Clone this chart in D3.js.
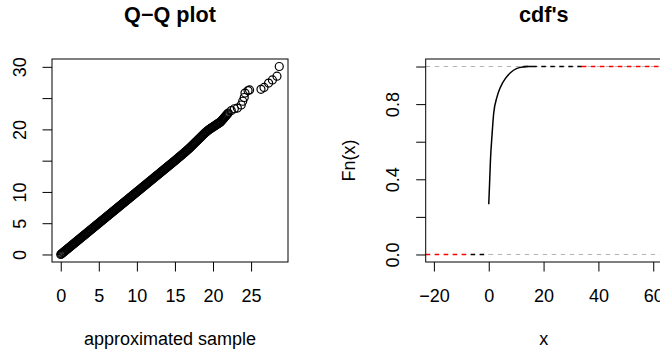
<!DOCTYPE html>
<html>
<head>
<meta charset="utf-8">
<script src="https://cdnjs.cloudflare.com/ajax/libs/d3/7.8.5/d3.min.js"></script>
<style>
  html, body { margin: 0; padding: 0; background: #fff; }
  svg text { font-family: "Liberation Sans", Arial, sans-serif; fill: #000; }
</style>
</head>
<body>
<div id="chart"></div>
<script>
// Q-Q plot: approximated sample (x) against sample (y)
var qqApprox = [
  0, 0.1, 0.2, 0.3, 0.4, 0.5, 0.6, 0.7, 0.8, 0.9,
  1, 1.1, 1.2, 1.3, 1.4, 1.5, 1.6, 1.7, 1.8, 1.9,
  2, 2.1, 2.2, 2.3, 2.4, 2.5, 2.6, 2.7, 2.8, 2.9,
  3, 3.1, 3.2, 3.3, 3.4, 3.5, 3.6, 3.7, 3.8, 3.9,
  4, 4.1, 4.2, 4.3, 4.4, 4.5, 4.6, 4.7, 4.8, 4.9,
  5, 5.1, 5.2, 5.3, 5.4, 5.5, 5.6, 5.7, 5.8, 5.9,
  6, 6.1, 6.2, 6.3, 6.4, 6.5, 6.6, 6.7, 6.8, 6.9,
  7, 7.1, 7.2, 7.3, 7.4, 7.5, 7.6, 7.7, 7.8, 7.9,
  8, 8.1, 8.2, 8.3, 8.4, 8.5, 8.6, 8.7, 8.8, 8.9,
  9, 9.1, 9.2, 9.3, 9.4, 9.5, 9.6, 9.7, 9.8, 9.9,
  10, 10.1, 10.2, 10.3, 10.4, 10.5, 10.6, 10.7, 10.8, 10.9,
  11, 11.1, 11.2, 11.3, 11.4, 11.5, 11.6, 11.7, 11.8, 11.9,
  12, 12.1, 12.2, 12.3, 12.4, 12.5, 12.6, 12.7, 12.8, 12.9,
  13, 13.1, 13.2, 13.3, 13.4, 13.5, 13.6, 13.7, 13.8, 13.9,
  14, 14.1, 14.2, 14.3, 14.4, 14.5, 14.6, 14.7, 14.8, 14.9,
  15, 15.1, 15.2, 15.3, 15.4, 15.5, 15.6, 15.7, 15.8, 15.9,
  16, 16.1, 16.2, 16.3, 16.4, 16.5, 16.6, 16.7, 16.8, 16.9,
  17, 17.1, 17.2, 17.3, 17.4, 17.5, 17.6, 17.7, 17.8, 17.9,
  18, 18.1, 18.2, 18.3, 18.4, 18.5, 18.6, 18.7, 18.8, 18.9,
  19, 19.1, 19.2, 19.3, 19.4, 19.5, 19.6, 19.7, 19.8, 19.9,
  20, 20.1, 20.2, 20.3, 20.4, 20.5, 20.6, 20.7, 20.8, 20.9,
  21, 21.1, 21.2, 21.3, 21.4, 21.5, 21.6, 21.7, 21.8, 21.9,
  22,
  22.4, 22.8, 23.2, 23.7, 23.9, 24.1, 24.2, 24.6, 24.8,
  26.3, 26.7, 27.3, 27.8, 28.4, 28.7
];
var qqSample = [
  0, 0.1, 0.2, 0.3, 0.4, 0.5, 0.6, 0.7, 0.8, 0.9,
  1, 1.1, 1.2, 1.3, 1.4, 1.5, 1.6, 1.7, 1.8, 1.9,
  2, 2.1, 2.2, 2.3, 2.4, 2.5, 2.6, 2.7, 2.8, 2.9,
  3, 3.1, 3.2, 3.3, 3.4, 3.5, 3.6, 3.7, 3.8, 3.9,
  4, 4.1, 4.2, 4.3, 4.4, 4.5, 4.6, 4.7, 4.8, 4.9,
  5, 5.1, 5.2, 5.3, 5.4, 5.5, 5.6, 5.7, 5.8, 5.9,
  6, 6.1, 6.2, 6.3, 6.4, 6.5, 6.6, 6.7, 6.8, 6.9,
  7, 7.1, 7.2, 7.3, 7.4, 7.5, 7.6, 7.7, 7.8, 7.9,
  8, 8.1, 8.2, 8.3, 8.4, 8.5, 8.6, 8.7, 8.8, 8.9,
  9, 9.1, 9.2, 9.3, 9.4, 9.5, 9.6, 9.7, 9.8, 9.9,
  10, 10.1, 10.2, 10.3, 10.4, 10.5, 10.6, 10.7, 10.8, 10.9,
  11, 11.1, 11.2, 11.3, 11.4, 11.5, 11.6, 11.7, 11.8, 11.9,
  12, 12.1, 12.2, 12.3, 12.4, 12.5, 12.6, 12.7, 12.8, 12.9,
  13, 13.1, 13.2, 13.3, 13.4, 13.5, 13.6, 13.7, 13.8, 13.9,
  14, 14.1, 14.2, 14.3, 14.4, 14.5, 14.6, 14.7, 14.8, 14.9,
  15, 15.1, 15.2, 15.3, 15.41, 15.51, 15.61, 15.71, 15.82, 15.92,
  16.02, 16.13, 16.23, 16.34, 16.45, 16.55, 16.66, 16.77, 16.88, 16.99,
  17.1, 17.22, 17.34, 17.46, 17.58, 17.7, 17.82, 17.94, 18.06, 18.18,
  18.3, 18.42, 18.54, 18.66, 18.78, 18.9, 19.02, 19.14, 19.26, 19.38,
  19.5, 19.6, 19.7, 19.8, 19.9, 20.0, 20.08, 20.16, 20.24, 20.32,
  20.4, 20.48, 20.56, 20.64, 20.72, 20.8, 20.88, 20.96, 21.04, 21.12,
  21.2, 21.34, 21.48, 21.62, 21.76, 21.9, 22.04, 22.18, 22.32, 22.46,
  22.6,
  23.0, 23.3, 23.4, 23.9, 24.5, 25.1, 25.8, 26.2, 26.3,
  26.4, 26.7, 27.4, 27.9, 28.5, 30.05
];
var qqXTicks = [0, 5, 10, 15, 20, 25];
var qqYTicks = [0, 5, 10, 15, 20, 25, 30];
var qqYLabels = [0, 5, 10, 20, 30];   // R drops the labels that would overlap

// cdf's: empirical cdf of the sample (black)
var cdfX = [0, 0.26, 0.62, 1.24, 1.8, 3.05, 4.27, 6.1, 7.9, 10.3, 12.6, 14, 16];
var cdfF = [0.267, 0.36, 0.50, 0.644, 0.75, 0.84, 0.89, 0.937, 0.967, 0.99, 0.998, 1, 1];
var cdfXlim = [-19.8, 60];
// flat ends of the two step functions (null = edge of the plot)
var cdfTails = [
  { series: "theory", y: 0, from: null, to: -6.6 },
  { series: "sample", y: 0, from: -6.6, to: 0 },
  { series: "sample", y: 1, from: 12.6, to: 34 },
  { series: "theory", y: 1, from: 34, to: null }
];
var cdfRefLines = [0, 1];
var cdfXTicks = [-20, 0, 20, 40, 60];
var cdfYTicks = [0, 0.2, 0.4, 0.6, 0.8, 1];
var cdfYLabels = [0, 0.4, 0.8];

var WIDTH = 660, HEIGHT = 355;
var TICK = 9.5;
var seriesColor = { sample: "#000", theory: "#ff0000" };

var svg = d3.select("#chart").append("svg")
    .attr("width", WIDTH)
    .attr("height", HEIGHT);

svg.append("rect").attr("width", WIDTH).attr("height", HEIGHT).attr("fill", "#fff");

// R style range: data extent widened by 4% each side
function rRange(ext) {
    var d = (ext[1] - ext[0]) * 0.04;
    return [ext[0] - d, ext[1] + d];
}

function drawFrame(g, box, x, y, o) {
    var w = box.x1 - box.x0, h = box.y1 - box.y0;

    var xa = g.append("g")
        .attr("transform", "translate(0," + box.y1 + ")")
        .call(d3.axisBottom(x).tickValues(o.xTicks).tickSize(TICK).tickSizeOuter(0));
    xa.select(".domain").remove();
    xa.selectAll("text").attr("y", 39.5).attr("dy", null)
        .style("font-size", "18px").attr("fill", "#000");

    var ya = g.append("g")
        .attr("transform", "translate(" + box.x0 + ",0)")
        .call(d3.axisLeft(y).tickValues(o.yTicks).tickSize(TICK).tickSizeOuter(0)
            .tickFormat(function (d) {
                return o.yLabels.indexOf(d) >= 0 ? o.yFormat(d) : "";
            }));
    ya.select(".domain").remove();
    ya.selectAll("text")
        .attr("x", 0).attr("y", -26.5).attr("dy", null)
        .attr("transform", "rotate(-90)")
        .attr("text-anchor", "middle")
        .style("font-size", "18px").attr("fill", "#000");

    g.selectAll(".tick line").attr("stroke", "#000");

    g.append("rect")
        .attr("x", box.x0).attr("y", box.y0)
        .attr("width", w).attr("height", h)
        .attr("fill", "none").attr("stroke", "#000").attr("stroke-width", 1);

    var cx = (box.x0 + box.x1) / 2;
    g.append("text")
        .attr("x", cx).attr("y", 21.5)
        .attr("text-anchor", "middle")
        .style("font-size", "21.6px").style("font-weight", "bold")
        .text(o.title);

    g.append("text")
        .attr("x", cx).attr("y", 345)
        .attr("text-anchor", "middle")
        .style("font-size", "18px")
        .text(o.xTitle);

    if (o.yTitle) {
        g.append("text")
            .attr("transform", "translate(" + (box.x0 - 71) + "," + ((box.y0 + box.y1) / 2) + ")rotate(-90)")
            .attr("text-anchor", "middle")
            .style("font-size", "18px")
            .text(o.yTitle);
    }
}

// ---- left panel: Q-Q plot
(function () {
    var box = { x0: 52, x1: 288, y0: 59, y1: 262 };
    var x = d3.scaleLinear().domain(rRange(d3.extent(qqApprox))).range([box.x0, box.x1]);
    var y = d3.scaleLinear().domain(rRange(d3.extent(qqSample))).range([box.y1, box.y0]);
    var g = svg.append("g").attr("id", "qq");

    g.append("g").selectAll("circle")
        .data(qqApprox)
        .enter().append("circle")
        .attr("cx", function (d) { return x(d); })
        .attr("cy", function (d, i) { return y(qqSample[i]); })
        .attr("r", 4)
        .attr("fill", "none")
        .attr("stroke", "#000")
        .attr("stroke-width", 1.2);

    drawFrame(g, box, x, y, {
        xTicks: qqXTicks, yTicks: qqYTicks, yLabels: qqYLabels,
        yFormat: d3.format("d"),
        title: "Q\u2212Q plot", xTitle: "approximated sample"
    });
})();

// ---- right panel: cdf's
(function () {
    var box = { x0: 425.7, x1: 662, y0: 59, y1: 262 };
    var x = d3.scaleLinear().domain(rRange(cdfXlim)).range([box.x0, box.x1]);
    var y = d3.scaleLinear().domain(rRange([0, 1])).range([box.y1, box.y0]);
    var g = svg.append("g").attr("id", "cdf");
    var dom = x.domain();

    // grey 0/1 guide lines
    g.append("g").selectAll("line")
        .data(cdfRefLines)
        .enter().append("line")
        .attr("x1", box.x0).attr("x2", box.x1)
        .attr("y1", function (d) { return y(d); })
        .attr("y2", function (d) { return y(d); })
        .attr("stroke", "#b3b3b3")
        .attr("stroke-dasharray", "4.5,4.5");

    g.append("g").selectAll("line")
        .data(cdfTails)
        .enter().append("line")
        .attr("x1", function (d) { return x(d.from === null ? dom[0] : d.from); })
        .attr("x2", function (d) { return x(d.to === null ? dom[1] : d.to); })
        .attr("y1", function (d) { return y(d.y); })
        .attr("y2", function (d) { return y(d.y); })
        .attr("stroke", function (d) { return seriesColor[d.series]; })
        .attr("stroke-width", 1.3)
        .attr("stroke-dasharray", "4.5,4.5");

    var line = d3.line()
        .x(function (d) { return x(d); })
        .y(function (d, i) { return y(cdfF[i]); })
        .curve(d3.curveMonotoneX);

    g.append("path")
        .attr("d", line(cdfX))
        .attr("fill", "none")
        .attr("stroke", seriesColor.sample)
        .attr("stroke-width", 1.5);

    drawFrame(g, box, x, y, {
        xTicks: cdfXTicks, yTicks: cdfYTicks, yLabels: cdfYLabels,
        yFormat: d3.format(".1f"),
        title: "cdf's", xTitle: "x", yTitle: "Fn(x)"
    });
})();
</script>
</body>
</html>
